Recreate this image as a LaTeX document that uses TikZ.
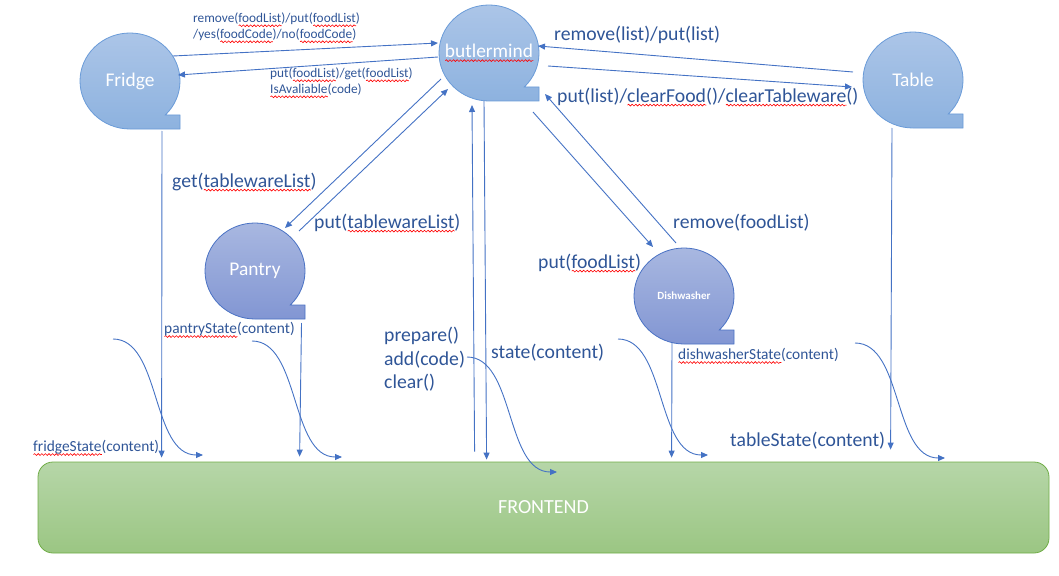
\documentclass[tikz,border=0pt]{standalone}
\usepackage{fontspec}
\setmainfont{Carlito}
\usetikzlibrary{arrows.meta,shapes.geometric,calc,decorations.pathmorphing}
\definecolor{textblue}{HTML}{2F5597}
\definecolor{arrowblue}{HTML}{4472C4}
\definecolor{lbtop}{HTML}{ADC6E8}
\definecolor{lbbot}{HTML}{8DB2DF}
\definecolor{lbdraw}{HTML}{6A9BD8}
\definecolor{dbtop}{HTML}{AAB9E1}
\definecolor{dbbot}{HTML}{8296D3}
\definecolor{dbdraw}{HTML}{4A72C4}
\definecolor{gtop}{HTML}{B6D6A8}
\definecolor{gbot}{HTML}{9BC683}
\definecolor{gdraw}{HTML}{70AD47}
\newsavebox\sqbox
\newcommand\sq[2][textblue]{%
  \sbox\sqbox{\textcolor{#1}{#2}}%
  \rlap{\tikz[baseline=0pt]{\draw[red,line width=0.6pt,decorate,
     decoration={snake,amplitude=0.9pt,segment length=3.6pt}]
     (0pt,-3pt) -- (\wd\sqbox,-3pt);}}%
  \usebox\sqbox}
\newcommand\bubble[3]{%
  \path[#3] (#1,#2+48) -- (#1+50,#2+48) -- (#1+50,#2+34) -- (#1+35.3,#2+34)
    arc[start angle=-45.1,end angle=270,x radius=50pt,y radius=48pt] -- cycle;}
\tikzset{
  lightbub/.style={top color=lbtop,bottom color=lbbot,draw=lbdraw,line width=0.8pt},
  darkbub/.style={top color=dbtop,bottom color=dbbot,draw=dbdraw,line width=0.8pt},
  bubname/.style={ellipse,minimum width=100pt,minimum height=96pt,inner sep=0pt,text=white,font=\fontsize{19.4}{22}\selectfont},
  lbl/.style={anchor=west,inner sep=0pt,text=textblue,align=left},
  lbig/.style={font=\fontsize{19.7}{23.5}\selectfont},
  lsmall/.style={font=\fontsize{13.3}{16}\selectfont},
  lmed/.style={font=\fontsize{15.4}{18}\selectfont},
  arr/.style={draw=arrowblue,line width=0.9pt,-{Triangle[length=7pt,width=6pt]}},
}
\begin{document}
\begin{tikzpicture}[x=1pt,y=-1pt]
\useasboundingbox (0,0) rectangle (1059,575);
% frontend
\node[rectangle,rounded corners=15pt,top color=gtop,bottom color=gbot,draw=gdraw,line width=0.8pt,
  minimum width=1011pt,minimum height=91pt,inner sep=0pt,text=white,font=\fontsize{20}{24}\selectfont]
  (fe) at (543.5,507.5) {FRONTEND};
% bubbles
\bubble{130}{81}{lightbub}
\bubble{489}{53}{lightbub}
\bubble{913}{80}{lightbub}
\bubble{255}{271}{darkbub}
\bubble{684}{296}{darkbub}
\node[bubname] (fridge) at (130,81) {Fridge};
\node[bubname] (bm) at (489,53) {\sq[white]{butlermind}};
\node[bubname] (table) at (913,80) {Table};
\node[bubname] (pantry) at (255,271) {Pantry};
\node[bubname,font=\fontsize{11}{13}\selectfont\bfseries] (dish) at (684,296) {Dishwasher};
% labels
\node[lbl,lsmall] (l1) at (193,28) {remove(\sq{foodList})/put(\sq{foodList})\\/yes(\sq{foodCode})/no(\sq{foodCode})};
\node[lbl,lsmall] (l2) at (270,83) {put(\sq{foodList})/get(\sq{foodList})\\\sq{IsAvaliable}(code)};
\node[lbl,lbig] (l3) at (554,35) {remove(list)/put(list)};
\node[lbl,lbig] (l4) at (557,97) {put(list)/\sq{clearFood}()/\sq{clearTableware}()};
\node[lbl,lbig] (l5) at (172,182) {get(\sq{tablewareList})};
\node[lbl,lbig] (l6) at (314,223) {put(\sq{tablewareList})};
\node[lbl,lbig] (l7) at (673,223) {remove(foodList)};
\node[lbl,lbig] (l8) at (538,263) {put(\sq{foodList})};
\node[lbl,lmed] (l9) at (164,330) {\sq{pantryState}(content)};
\node[lbl,lbig] (l10) at (384,359.5) {prepare()\\add(code)\\clear()};
\node[lbl,lbig] (l11) at (491,353) {state(content)};
\node[lbl,lmed] (l12) at (678,356) {\sq{dishwasherState}(content)};
\node[lbl,lmed] (l13) at (33,448) {\sq{fridgeState}(content)};
\node[lbl,lbig] (l14) at (730,441) {tableState(content)};
% connectors between bubbles
\draw[arr] ($(fridge)+(43,-25)$) -- ($(bm)+(-51,-10)$);
\draw[arr] ($(bm)+(-51,4)$) -- ($(fridge)+(48,-6)$);
\draw[arr] ($(table)+(-60,-8)$) -- ($(bm)+(49,-7)$);
\draw[arr] ($(bm)+(59,13)$) -- ($(table)+(-61,7)$);
\draw[arr] ($(bm)+(-48,26)$) -- ($(pantry)+(30,-43)$);
\draw[arr] ($(pantry)+(44,-40)$) -- ($(bm)+(-41,36)$);
\draw[arr] ($(bm)+(44,59)$) -- ($(dish)+(-31,-49)$);
\draw[arr] ($(dish)+(-8,-53)$) -- ($(bm)+(56,41)$);
% connectors to / from frontend
\draw[arr] ($(fe.north west)+(437,-10)$) -- ($(bm)+(-17,52)$);
\draw[arr] ($(bm)+(-5,48)$) -- ($(fe.north west)+(449,-2)$);
\draw[arr] ($(fridge)+(32,50)$) -- ($(fe.north west)+(124,-4)$);
\draw[arr] ($(pantry)+(46.5,52)$) -- ($(fe.north west)+(262,-5)$);
\draw[arr] ($(dish)+(-12,47)$) -- ($(fe.north west)+(634,-4)$);
\draw[arr] ($(table)+(-21,48)$) -- ($(fe.north west)+(853,-12)$);
% curved arrows
\coordinate (a1) at (113,339); \coordinate (a2) at (203,455);
\coordinate (b1) at (252,341); \coordinate (b2) at (342,457);
\coordinate (c1) at (467,357); \coordinate (c2) at (557,472);
\coordinate (d1) at (618,339); \coordinate (d2) at (708,455);
\coordinate (e1) at (855,343); \coordinate (e2) at (945,458);
\foreach \s/\t in {a1/a2,b1/b2,c1/c2,d1/d2,e1/e2}
  \draw[arr] (\s) .. controls +(48,0) and +(-52,0) .. (\t);
\end{tikzpicture}
\end{document}
